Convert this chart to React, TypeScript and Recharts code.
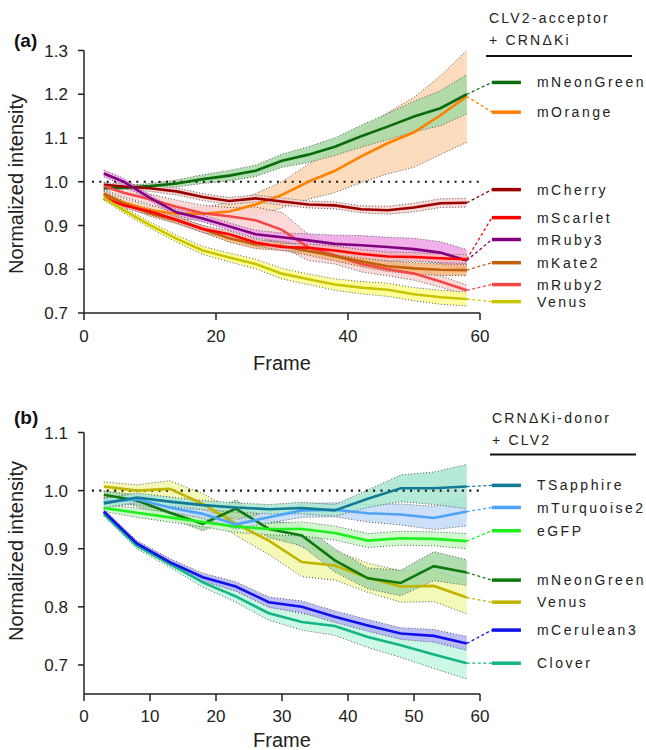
import React from 'react';
import { ComposedChart, Line, Area, XAxis, YAxis, ReferenceLine } from 'recharts';

// panel (a): CLV2-acceptor + CRNΔKi
const framesA = [3, 6, 10, 14, 18, 22, 26, 30, 34, 38, 42, 46, 50, 54, 58];
const mNeonGreenA = [0.985, 0.986, 0.99, 0.996, 1.006, 1.014, 1.025, 1.048, 1.062, 1.08, 1.104, 1.126, 1.149, 1.168, 1.2];
const mNeonGreenA_sem = [0.004, 0.005, 0.006, 0.008, 0.01, 0.012, 0.013, 0.015, 0.018, 0.02, 0.025, 0.03, 0.035, 0.04, 0.045];
const mOrangeA = [0.97, 0.952, 0.935, 0.927, 0.927, 0.932, 0.948, 0.97, 1.0, 1.025, 1.058, 1.088, 1.113, 1.152, 1.195];
const mOrangeA_sem = [0.01, 0.01, 0.01, 0.012, 0.015, 0.02, 0.025, 0.03, 0.04, 0.05, 0.06, 0.07, 0.08, 0.09, 0.105];
const mCherryA = [0.993, 0.989, 0.985, 0.978, 0.965, 0.956, 0.962, 0.955, 0.948, 0.946, 0.937, 0.935, 0.941, 0.951, 0.952];
const mCherryA_sem = [0.005, 0.006, 0.007, 0.008, 0.008, 0.008, 0.008, 0.008, 0.008, 0.008, 0.008, 0.009, 0.01, 0.01, 0.01];
const mScarletA = [0.963, 0.946, 0.932, 0.913, 0.892, 0.88, 0.861, 0.851, 0.849, 0.843, 0.835, 0.829, 0.828, 0.825, 0.823];
const mScarletA_sem = [0.005, 0.006, 0.007, 0.007, 0.008, 0.008, 0.008, 0.008, 0.009, 0.01, 0.01, 0.01, 0.01, 0.01, 0.01];
const mRuby3A = [1.019, 1.0, 0.963, 0.93, 0.916, 0.898, 0.88, 0.873, 0.866, 0.858, 0.855, 0.851, 0.846, 0.838, 0.82];
const mRuby3A_sem = [0.008, 0.008, 0.007, 0.007, 0.008, 0.008, 0.009, 0.01, 0.015, 0.02, 0.022, 0.022, 0.025, 0.025, 0.025];
const mKate2A = [0.973, 0.95, 0.928, 0.912, 0.892, 0.871, 0.857, 0.853, 0.842, 0.83, 0.818, 0.807, 0.802, 0.799, 0.798];
const mKate2A_sem = [0.005, 0.006, 0.007, 0.008, 0.008, 0.009, 0.01, 0.01, 0.01, 0.011, 0.012, 0.012, 0.013, 0.013, 0.013];
const mRuby2A = [0.99, 0.975, 0.96, 0.943, 0.928, 0.921, 0.912, 0.89, 0.85, 0.832, 0.812, 0.8, 0.79, 0.772, 0.752];
const mRuby2A_sem = [0.008, 0.01, 0.012, 0.015, 0.018, 0.02, 0.03, 0.04, 0.03, 0.02, 0.018, 0.015, 0.015, 0.013, 0.012];
const venusA = [0.963, 0.935, 0.901, 0.87, 0.843, 0.827, 0.812, 0.79, 0.777, 0.765, 0.758, 0.753, 0.743, 0.736, 0.732];
const venusA_sem = [0.005, 0.006, 0.007, 0.008, 0.009, 0.01, 0.011, 0.012, 0.012, 0.013, 0.014, 0.015, 0.015, 0.016, 0.016];

// panel (b): CRNΔKi-donor + CLV2
const framesB = [3, 8, 13, 18, 23, 28, 33, 38, 43, 48, 53, 58];
const tSapphireB = [0.978, 0.988, 0.981, 0.975, 0.971, 0.968, 0.97, 0.966, 0.986, 1.004, 1.004, 1.007];
const tSapphireB_sem = [0.008, 0.008, 0.008, 0.008, 0.008, 0.008, 0.01, 0.01, 0.015, 0.023, 0.028, 0.038];
const mTurquoise2B = [0.98, 0.985, 0.971, 0.96, 0.942, 0.954, 0.966, 0.967, 0.961, 0.959, 0.953, 0.964];
const mTurquoise2B_sem = [0.008, 0.008, 0.008, 0.008, 0.008, 0.01, 0.012, 0.012, 0.015, 0.018, 0.02, 0.025];
const eGFPB = [0.97, 0.962, 0.954, 0.946, 0.938, 0.934, 0.934, 0.927, 0.914, 0.918, 0.917, 0.913];
const eGFPB_sem = [0.006, 0.008, 0.008, 0.008, 0.01, 0.01, 0.012, 0.012, 0.012, 0.012, 0.012, 0.013];
const mNeonGreenB = [0.993, 0.983, 0.962, 0.943, 0.969, 0.934, 0.923, 0.88, 0.849, 0.841, 0.87, 0.859];
const mNeonGreenB_sem = [0.006, 0.01, 0.01, 0.012, 0.015, 0.015, 0.018, 0.02, 0.018, 0.022, 0.025, 0.022];
const venusB = [1.007, 1.0, 1.003, 0.977, 0.943, 0.914, 0.877, 0.871, 0.85, 0.835, 0.836, 0.816];
const venusB_sem = [0.008, 0.01, 0.014, 0.018, 0.02, 0.024, 0.025, 0.025, 0.025, 0.027, 0.027, 0.028];
const mCerulean3B = [0.964, 0.909, 0.877, 0.851, 0.835, 0.808, 0.8, 0.783, 0.768, 0.754, 0.75, 0.737];
const mCerulean3B_sem = [0.004, 0.005, 0.006, 0.007, 0.008, 0.009, 0.01, 0.01, 0.01, 0.01, 0.011, 0.012];
const cloverB = [0.96, 0.905, 0.874, 0.842, 0.818, 0.789, 0.774, 0.767, 0.748, 0.734, 0.718, 0.703];
const cloverB_sem = [0.004, 0.005, 0.006, 0.008, 0.01, 0.012, 0.014, 0.016, 0.018, 0.021, 0.024, 0.027];

const ticksYA = [0.7, 0.8, 0.9, 1.0, 1.1, 1.2, 1.3];
const ticksYB = [0.7, 0.8, 0.9, 1.0, 1.1];
const ticksXA = [0, 20, 40, 60];
const ticksXB = [0, 10, 20, 30, 40, 50, 60];

const FONT = "'Liberation Sans', Arial, Helvetica, sans-serif";

type Series = {
  name: string;
  values: number[];
  sem: number[];
  color: string;
  band: string;
  slot: number; // legend row, in y units
};

// band order = draw order (later on top)
const seriesA: Series[] = [
  { name: 'mOrange', values: mOrangeA, sem: mOrangeA_sem, color: '#ff8000', band: '#fdd6b2', slot: 1.159 },
  { name: 'mNeonGreen', values: mNeonGreenA, sem: mNeonGreenA_sem, color: '#0b6a0b', band: '#a4d9a4', slot: 1.227 },
  { name: 'mCherry', values: mCherryA, sem: mCherryA_sem, color: '#9a0000', band: '#f7cfcf', slot: 0.982 },
  { name: 'mRuby2', values: mRuby2A, sem: mRuby2A_sem, color: '#f24848', band: '#fbd2d2', slot: 0.765 },
  { name: 'mRuby3', values: mRuby3A, sem: mRuby3A_sem, color: '#800080', band: '#eea2e6', slot: 0.868 },
  { name: 'mKate2', values: mKate2A, sem: mKate2A_sem, color: '#c0600a', band: '#f4b47c', slot: 0.815 },
  { name: 'mScarlet', values: mScarletA, sem: mScarletA_sem, color: '#ff0000', band: '#f9b9b9', slot: 0.918 },
  { name: 'Venus', values: venusA, sem: venusA_sem, color: '#c8c400', band: '#ffff8c', slot: 0.726 },
];

const seriesB: Series[] = [
  { name: 'Venus', values: venusB, sem: venusB_sem, color: '#c0b400', band: '#f2f8aa', slot: 0.808 },
  { name: 'mNeonGreen', values: mNeonGreenB, sem: mNeonGreenB_sem, color: '#0e7a0e', band: '#a2d8a2', slot: 0.846 },
  { name: 'eGFP', values: eGFPB, sem: eGFPB_sem, color: '#1ef01e', band: '#c8f8c4', slot: 0.931 },
  { name: 'mTurquoise2', values: mTurquoise2B, sem: mTurquoise2B_sem, color: '#4da3f5', band: '#c4dbf8', slot: 0.971 },
  { name: 'TSapphire', values: tSapphireB, sem: tSapphireB_sem, color: '#137a94', band: '#a8e6d2', slot: 1.009 },
  { name: 'Clover', values: cloverB, sem: cloverB_sem, color: '#14b487', band: '#c2f8e2', slot: 0.703 },
  { name: 'mCerulean3', values: mCerulean3B, sem: mCerulean3B_sem, color: '#1010e8', band: '#b2b2f6', slot: 0.76 },
];

const buildRows = (frames: number[], series: Series[]) =>
  frames.map((frame, i) => {
    const row: Record<string, any> = { frame };
    series.forEach((s) => {
      row[s.name] = s.values[i];
      row[s.name + '_band'] = [s.values[i] - s.sem[i], s.values[i] + s.sem[i]];
    });
    return row;
  });

const LEG_X0 = 61.8;
const LEG_X1 = 66.2;

const legendLabel = (text: string) => (p: any) => {
  const vb = p.viewBox || {};
  return (
    <text
      x={(vb.x || 0) + (vb.width || 0) + 16}
      y={(vb.y || 0) + (vb.height || 0) / 2}
      dy="0.36em"
      fontSize={14}
      letterSpacing={2.5}
      fill="#222"
      fontFamily={FONT}
    >
      {text}
    </text>
  );
};

type PanelProps = {
  frames: number[];
  series: Series[];
  yDomain: [number, number];
  yTicks: number[];
  xTicks: number[];
  height: number;
  marginTop: number;
  marginBottom: number;
  tickMarginX: number;
};

const Panel = ({ frames, series, yDomain, yTicks, xTicks, height, marginTop, marginBottom, tickMarginX }: PanelProps) => {
  const rows = buildRows(frames, series);
  const tickStyle = { fontSize: 17, fill: '#222', fontFamily: FONT };
  return (
    <ComposedChart width={646} height={height} data={rows} margin={{ top: marginTop, right: 166, bottom: marginBottom, left: 24 }}>
      <XAxis
        type="number"
        dataKey="frame"
        domain={[0, 60]}
        ticks={xTicks}
        tick={tickStyle}
        tickSize={7}
        tickMargin={tickMarginX}
        height={40}
        axisLine={{ stroke: '#222', strokeWidth: 1.5 }}
        tickLine={{ stroke: '#222', strokeWidth: 1.5 }}
        allowDataOverflow
      />
      <YAxis
        type="number"
        domain={yDomain}
        ticks={yTicks}
        tickFormatter={(v: number) => v.toFixed(1)}
        tick={tickStyle}
        tickSize={6}
        tickMargin={10}
        width={60}
        axisLine={{ stroke: '#222', strokeWidth: 1.5 }}
        tickLine={{ stroke: '#222', strokeWidth: 1.5 }}
        allowDataOverflow
      />
      {series.map((s) => (
        <Area
          key={s.name + '_band'}
          type="linear"
          dataKey={s.name + '_band'}
          fill={s.band}
          fillOpacity={0.85}
          stroke="#555"
          strokeWidth={1}
          strokeDasharray="1 2"
          dot={false}
          activeDot={false}
          isAnimationActive={false}
        />
      ))}
      <ReferenceLine
        segment={[{ x: 1.2, y: 1 }, { x: 60, y: 1 }]}
        stroke="#111"
        strokeWidth={2.2}
        strokeDasharray="2 5.4"
        ifOverflow="visible"
      />
      {series.map((s) => (
        <Line
          key={s.name}
          type="linear"
          dataKey={s.name}
          stroke={s.color}
          strokeWidth={2.6}
          dot={false}
          activeDot={false}
          isAnimationActive={false}
        />
      ))}
      {series.map((s) => (
        <ReferenceLine
          key={s.name + '_conn'}
          segment={[
            { x: frames[frames.length - 1], y: s.values[s.values.length - 1] },
            { x: LEG_X0, y: s.slot },
          ]}
          stroke={s.color}
          strokeWidth={1.3}
          strokeDasharray="3 2.5"
          ifOverflow="visible"
        />
      ))}
      {series.map((s) => (
        <ReferenceLine
          key={s.name + '_leg'}
          segment={[{ x: LEG_X0, y: s.slot }, { x: LEG_X1, y: s.slot }]}
          stroke={s.color}
          strokeWidth={3.5}
          ifOverflow="visible"
          label={legendLabel(s.name)}
        />
      ))}
    </ComposedChart>
  );
};

const Header = ({ x, y, lines }: { x: number; y: number; lines: string[] }) => (
  <g>
    <text x={x} y={y} fontSize={14} letterSpacing={2.2} fill="#222" fontFamily={FONT}>
      {lines[0]}
    </text>
    <text x={x} y={y + 22} fontSize={14} letterSpacing={2.2} fill="#222" fontFamily={FONT}>
      {lines[1]}
    </text>
  </g>
);

export default function App() {
  return (
    <div style={{ position: 'absolute', left: 0, top: 0, width: 646, height: 750, background: '#fff' }}>
      <div style={{ position: 'absolute', left: 0, top: 0 }}>
        <Panel
          frames={framesA}
          series={seriesA}
          yDomain={[0.7, 1.3]}
          yTicks={ticksYA}
          xTicks={ticksXA}
          height={360}
          marginTop={50.5}
          marginBottom={7}
          tickMarginX={10}
        />
      </div>
      <div style={{ position: 'absolute', left: 0, top: 380 }}>
        <Panel
          frames={framesB}
          series={seriesB}
          yDomain={[0.65, 1.1]}
          yTicks={ticksYB}
          xTicks={ticksXB}
          height={370}
          marginTop={52.5}
          marginBottom={16}
          tickMarginX={9}
        />
      </div>
      <svg width={646} height={750} style={{ position: 'absolute', left: 0, top: 0, pointerEvents: 'none' }}>
        <text x={14} y={47} fontSize={19} fontWeight="bold" fill="#111" fontFamily={FONT}>(a)</text>
        <text x={14} y={424} fontSize={19} fontWeight="bold" fill="#111" fontFamily={FONT}>(b)</text>
        <text x={23} y={184} transform="rotate(-90 23 184)" textAnchor="middle" fontSize={20} fill="#222" fontFamily={FONT}>
          Normalized intensity
        </text>
        <text x={23} y={551} transform="rotate(-90 23 551)" textAnchor="middle" fontSize={20} fill="#222" fontFamily={FONT}>
          Normalized intensity
        </text>
        <text x={282} y={370} textAnchor="middle" fontSize={20} fill="#222" fontFamily={FONT}>Frame</text>
        <text x={282} y={747} textAnchor="middle" fontSize={20} fill="#222" fontFamily={FONT}>Frame</text>
        <Header x={489} y={23} lines={['CLV2-acceptor', '+ CRN\u0394Ki']} />
        <line x1={486} x2={632} y1={56} y2={56} stroke="#111" strokeWidth={2} />
        <Header x={492} y={423} lines={['CRN\u0394Ki-donor', '+ CLV2']} />
        <line x1={490} x2={636} y1={454.5} y2={454.5} stroke="#111" strokeWidth={2} />
      </svg>
    </div>
  );
}
